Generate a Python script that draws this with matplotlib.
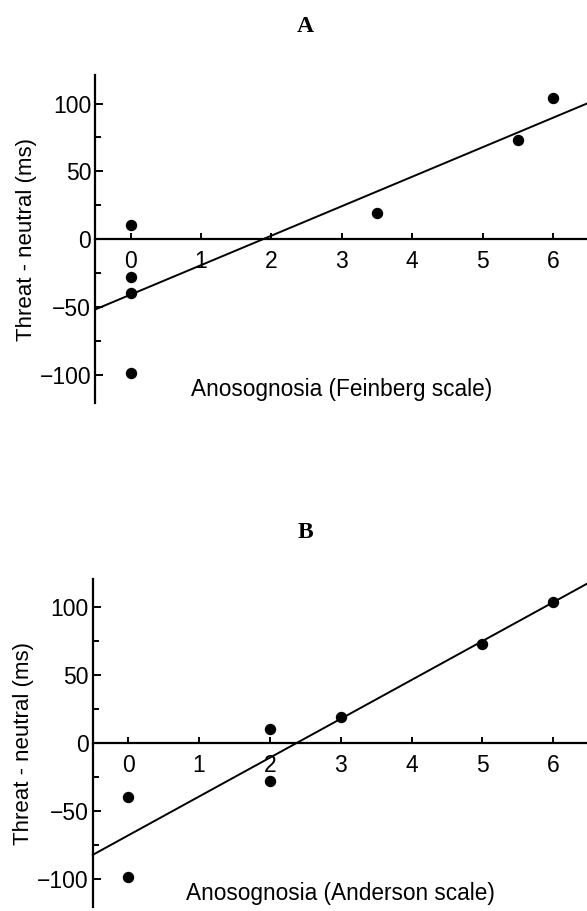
import numpy as np
import matplotlib
matplotlib.use("Agg")
import matplotlib.pyplot as plt
from matplotlib.ticker import MultipleLocator

# ---- data ----
score_feinberg = [0, 0, 0, 0, 3.5, 5.5, 6]
score_anderson = [0, 0, 2, 2, 3, 5, 6]
diff_a = [10, -28, -40, -99, 19, 73, 104]
diff_b = [-40, -99, 10, -28, 19, 73, 104]
x_ticks = [0, 1, 2, 3, 4, 5, 6]
y_ticks = [-100, -50, 0, 50, 100]
panel_titles = ["A", "B"]
x_labels = ["Anosognosia (Feinberg scale)", "Anosognosia (Anderson scale)"]
y_label = "Threat - neutral (ms)"

XLIM = (-0.5, 6.5)
YLIM = (-121, 121)

plt.rcParams["font.family"] = ["Liberation Sans", "DejaVu Sans"]

fig = plt.figure(figsize=(5.87, 9.11), dpi=100)
positions = [
    [0.1624, 0.5576, 0.8395, 0.360],
    [0.158, 0.0044, 0.845, 0.360],
]
title_y = [1 - 26 / 911, 1 - 532 / 911]


def draw_panel(ax, xs, ys, xlabel):
    xs = np.asarray(xs, dtype=float)
    ys = np.asarray(ys, dtype=float)
    ax.plot(xs, ys, "o", color="black", markersize=7.2, zorder=3)

    # least-squares line across the whole x-range
    slope, icpt = np.polyfit(xs, ys, 1)
    xl = np.array(XLIM)
    ax.plot(xl, icpt + slope * xl, color="black", lw=1.4, clip_on=False)

    ax.set_xlim(*XLIM)
    ax.set_ylim(*YLIM)
    ax.spines["top"].set_visible(False)
    ax.spines["right"].set_visible(False)
    ax.spines["bottom"].set_position(("data", 0))
    for s in ("left", "bottom"):
        ax.spines[s].set_linewidth(1.6)

    ax.set_xticks(x_ticks)
    ax.set_yticks(y_ticks)
    ax.yaxis.set_minor_locator(MultipleLocator(25))
    ax.tick_params(axis="x", direction="in", length=4.5, width=1.4,
                   pad=8, labelsize=16.5)
    ax.tick_params(axis="y", which="major", direction="in", length=6,
                   width=1.4, pad=3, labelsize=16.5)
    ax.tick_params(axis="y", which="minor", direction="in", length=4.5,
                   width=1.4)

    ax.text(0.5, 0.006, xlabel, transform=ax.transAxes, ha="center",
            va="bottom", fontsize=16.3)
    ax.set_ylabel(y_label, fontsize=16, labelpad=2)


for i, (xs, ys) in enumerate([(score_feinberg, diff_a), (score_anderson, diff_b)]):
    ax = fig.add_axes(positions[i])
    draw_panel(ax, xs, ys, x_labels[i])
    fig.text(0.52, title_y[i], panel_titles[i], ha="center", va="center",
             fontsize=17, fontweight="bold", family="Liberation Serif")

fig.savefig("out.png", dpi=100)
